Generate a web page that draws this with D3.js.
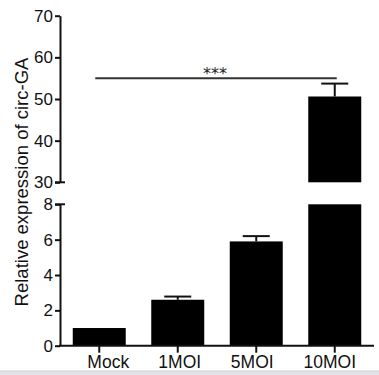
<!DOCTYPE html>
<html>
<head>
<meta charset="utf-8">
<script src="https://cdn.jsdelivr.net/npm/d3@7"></script>
<style>
  body { margin: 0; background: #fff; }
  svg { display: block; font-family: "Liberation Sans", Arial, sans-serif; }
</style>
</head>
<body>
<svg width="379" height="375"></svg>
<script>
  const groups = ['Mock', '1MOI', '5MOI', '10MOI'];
  const means = [1.0, 2.6, 5.9, 50.6];
  const errors = [0, 0.18, 0.3, 3.1];
  const topTicks = [30, 40, 50, 60, 70];
  const bottomTicks = [0, 2, 4, 6, 8];
  const sigLevel = 55;
  const sigText = '***';

  const svg = d3.select('svg');
  const ink = '#111';

  const x = d3.scaleBand()
    .domain(groups)
    .range([60, 374])
    .paddingInner(0.325)
    .paddingOuter(0.1625);

  // broken y axis: two segments
  const yTop = d3.scaleLinear().domain([30, 70]).range([182.3, 15.7]);
  const yBot = d3.scaleLinear().domain([0, 8]).range([345.7, 204.3]);

  const data = groups.map((g, i) => ({g: g, v: means[i], e: errors[i]}));

  // bars, lower segment (clipped at 8)
  svg.append('g').selectAll('rect')
    .data(data)
    .enter().append('rect')
      .attr('x', d => x(d.g))
      .attr('width', x.bandwidth())
      .attr('y', d => yBot(Math.min(d.v, 8)))
      .attr('height', d => yBot(0) - yBot(Math.min(d.v, 8)))
      .attr('fill', '#000');

  // bars, upper segment
  const tall = data.filter(d => d.v > 30);
  svg.append('g').selectAll('rect')
    .data(tall)
    .enter().append('rect')
      .attr('x', d => x(d.g))
      .attr('width', x.bandwidth())
      .attr('y', d => yTop(d.v))
      .attr('height', d => yTop(30) - yTop(d.v))
      .attr('fill', '#000');

  // error bars (upper only)
  const yOf = v => v > 30 ? yTop(v) : yBot(v);
  const eb = svg.append('g').attr('stroke', ink).attr('stroke-width', 2);
  data.filter(d => d.e > 0).forEach(d => {
    const cx = x(d.g) + x.bandwidth() / 2;
    eb.append('line')
      .attr('x1', cx).attr('x2', cx)
      .attr('y1', yOf(d.v)).attr('y2', yOf(d.v + d.e));
    eb.append('line')
      .attr('x1', cx - 13.5).attr('x2', cx + 13.5)
      .attr('y1', yOf(d.v + d.e)).attr('y2', yOf(d.v + d.e));
  });

  // axes
  const styleAxis = (g, fs) => {
    g.selectAll('path, line').attr('stroke', ink).attr('stroke-width', 2);
    g.selectAll('text').attr('fill', ink).style('font-size', fs + 'px')
      .style('font-family', '"Liberation Sans", Arial, sans-serif');
  };

  svg.append('g')
    .attr('transform', 'translate(60,0)')
    .call(d3.axisLeft(yTop).tickValues(topTicks).tickSizeInner(5).tickSizeOuter(0).tickPadding(2))
    .call(g => styleAxis(g, 17));

  svg.append('g')
    .attr('transform', 'translate(60,0)')
    .call(d3.axisLeft(yBot).tickValues(bottomTicks).tickSizeInner(5).tickSizeOuter(0).tickPadding(2))
    .call(g => styleAxis(g, 17));

  // break caps on the axis ends
  svg.append('g').attr('stroke', ink).attr('stroke-width', 2)
    .selectAll('line')
    .data([yTop(30), yBot(8)])
    .enter().append('line')
      .attr('x1', 55).attr('x2', 65)
      .attr('y1', d => d).attr('y2', d => d);

  svg.append('g')
    .attr('transform', `translate(0,${yBot(0)})`)
    .call(d3.axisBottom(x).tickSizeInner(7).tickSizeOuter(0).tickPadding(3))
    .call(g => g.select('.domain').attr('d', 'M59,0H374'))
    .call(g => styleAxis(g, 17.5));

  // labels sit a little off their ticks in the original
  const labelShift = {'Mock': 9, '1MOI': 2, '5MOI': -4, '10MOI': -5};
  svg.selectAll('.tick text').filter(d => d in labelShift)
    .attr('dx', d => labelShift[d]);

  // y label
  svg.append('text')
    .attr('transform', 'translate(28,182) rotate(-90)')
    .attr('text-anchor', 'middle')
    .attr('fill', ink)
    .style('font-size', '18.5px')
    .text('Relative expression of circ-GA');

  // significance bracket
  const x0 = x('Mock') + x.bandwidth() / 2 - 4;
  const x1 = x('10MOI') + x.bandwidth() / 2 + 2;
  svg.append('line')
    .attr('x1', x0).attr('x2', x1)
    .attr('y1', yTop(sigLevel)).attr('y2', yTop(sigLevel))
    .attr('stroke', '#333').attr('stroke-width', 2);
  svg.append('text')
    .attr('x', 215)
    .attr('y', yTop(sigLevel) + 1)
    .attr('text-anchor', 'middle')
    .attr('fill', '#222')
    .style('font-family', '"DejaVu Sans", sans-serif')
    .style('font-size', '16px')
    .text(sigText);

  // grey strip at the bottom of the screenshot
  svg.append('rect')
    .attr('x', 0).attr('y', 371).attr('width', 379).attr('height', 4)
    .attr('fill', '#e2e2e8');
  svg.append('line')
    .attr('x1', 0).attr('x2', 379).attr('y1', 371).attr('y2', 371)
    .attr('stroke', '#cfcfd6').attr('stroke-width', 1);
</script>
</body>
</html>
